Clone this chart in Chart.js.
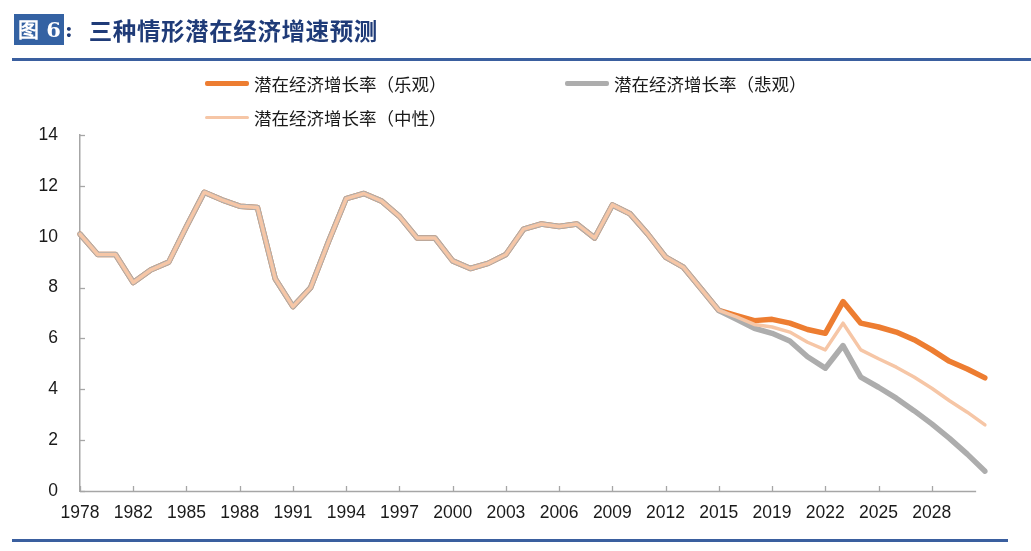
<!DOCTYPE html>
<html lang="zh-CN">
<head>
<meta charset="utf-8">
<script src="https://cdn.jsdelivr.net/npm/chart.js@4.4.1/dist/chart.umd.min.js"></script>
<style>
  html, body { margin: 0; padding: 0; background: #fff; }
  #page { position: relative; width: 1031px; height: 551px; overflow: hidden; font-family: "Noto Sans CJK SC", sans-serif; }
  #chart { position: absolute; left: 0; top: 0; }
  #title { position: absolute; left: 14px; top: 14px; height: 31px; display: flex; align-items: center; color: #1f3b78; }
  #title .fig { background: #3462a3; color: #fff; font-family: "DejaVu Serif", serif; font-weight: bold; font-size: 21px; height: 31px; line-height: 31px; padding: 0 3px 0 4px; white-space: nowrap; }
  #title .colon { font-family: "DejaVu Serif", serif; font-weight: bold; font-size: 21px; margin-left: 1px; margin-right: 16px; }
  #title .txt { font-size: 23.5px; font-weight: bold; letter-spacing: 0.6px; }
  .rule { position: absolute; left: 12px; height: 3px; background: #3a5f9f; }
  .leg { position: absolute; display: flex; align-items: center; font-size: 17.5px; color: #1a1a1a; height: 24px; }
  .leg i { display: inline-block; width: 44px; margin-right: 5px; border-radius: 2px; }
</style>
</head>
<body>
<div id="page">
  <canvas id="chart" width="1031" height="551"></canvas>
  <div id="title"><span class="fig">图 6</span><span class="colon">:</span><span class="txt">三种情形潜在经济增速预测</span></div>
  <div class="rule" style="top:58px; right:0;"></div>
  <div class="rule" style="top:539px; width:996px;"></div>
  <div id="legend"></div>
</div>
<script>
// categories (years); 1979 and 2016 are not in the source series
const years = [
  "1978", "1980", "1981", "1982", "1983", "1984", "1985", "1986", "1987", "1988",
  "1989", "1990", "1991", "1992", "1993", "1994", "1995", "1996", "1997", "1998",
  "1999", "2000", "2001", "2002", "2003", "2004", "2005", "2006", "2007", "2008",
  "2009", "2010", "2011", "2012", "2013", "2014", "2015", "2017", "2018", "2019",
  "2020", "2021", "2022", "2023", "2024", "2025", "2026", "2027", "2028", "2029",
  "2030", "2031"
];

// years that get a label and a tick mark
const tickYears = [
  "1978", "1982", "1985", "1988", "1991", "1994", "1997", "2000", "2003",
  "2006", "2009", "2012", "2015", "2019", "2022", "2025", "2028"
];

// shared history 1978-2015 (%)
const history = [
  10.1, 9.3, 9.3, 8.2, 8.7, 9.0, 10.4, 11.75, 11.45, 11.2,
  11.15, 8.35, 7.25, 8.0, 9.8, 11.5, 11.7, 11.4, 10.8, 9.95,
  9.95, 9.05, 8.75, 8.95, 9.3, 10.3, 10.5, 10.4, 10.5, 9.95,
  11.25, 10.9, 10.1, 9.2, 8.8, 7.95, 7.1
];

// projections 2017-2031 (%)
const optimistic = [6.9, 6.7, 6.75, 6.6, 6.35, 6.2, 7.45, 6.6, 6.45, 6.25, 5.95, 5.55, 5.1, 4.8, 4.45];
const pessimistic = [6.75, 6.4, 6.2, 5.9, 5.28, 4.83, 5.72, 4.48, 4.08, 3.65, 3.16, 2.64, 2.07, 1.45, 0.78];
const neutral = [6.85, 6.55, 6.45, 6.25, 5.85, 5.55, 6.6, 5.55, 5.2, 4.87, 4.48, 4.04, 3.55, 3.1, 2.6];

const yTicks = [0, 2, 4, 6, 8, 10, 12, 14];

const series = [
  { label: "潜在经济增长率（乐观）", values: optimistic, color: "#ed7d31", width: 5.5, order: 2, pos: [205, 71] },
  { label: "潜在经济增长率（悲观）", values: pessimistic, color: "#adadad", width: 5.5, order: 1, pos: [565, 71] },
  { label: "潜在经济增长率（中性）", values: neutral, color: "#f6c6a6", width: 3.5, order: 0, pos: [205, 105] }
];

document.addEventListener("DOMContentLoaded", () => {
  buildLegend();
  initChart();
});

function buildLegend() {
  const box = document.getElementById("legend");
  series.forEach((s) => {
    const el = document.createElement("div");
    el.className = "leg";
    el.style.left = s.pos[0] + "px";
    el.style.top = s.pos[1] + "px";
    el.innerHTML = '<i style="height:' + (s.width - 0.5) + 'px;background:' + s.color + '"></i>' + s.label;
    box.appendChild(el);
  });
}

// axis line + inward tick marks, as in the source
const innerTicks = {
  id: "innerTicks",
  beforeDatasetsDraw(chart) {
    const { ctx, scales } = chart;
    const x = scales.x, y = scales.y;
    ctx.save();
    ctx.strokeStyle = "#a6a6a6";
    ctx.lineWidth = 1.5;
    // x axis stops half a category before the last point
    const yb = Math.round(y.bottom) + 0.5;
    ctx.beginPath();
    ctx.moveTo(x.left, yb);
    ctx.lineTo(x.getPixelForValue(years.length - 1.5), yb);
    ctx.stroke();
    ctx.lineWidth = 1.3;
    yTicks.forEach((v) => {
      const py = Math.round(y.getPixelForValue(v)) + 0.5;
      ctx.beginPath();
      ctx.moveTo(x.left, py);
      ctx.lineTo(x.left + 5, py);
      ctx.stroke();
    });
    years.forEach((yr, i) => {
      if (!tickYears.includes(yr)) return;
      const px = Math.round(x.getPixelForValue(i)) + 0.5;
      ctx.beginPath();
      ctx.moveTo(px, y.bottom);
      ctx.lineTo(px, y.bottom - 5);
      ctx.stroke();
    });
    ctx.restore();
  }
};

function initChart() {
  const ctx = document.getElementById("chart").getContext("2d");
  new Chart(ctx, {
    type: "line",
    data: {
      labels: years,
      datasets: series.map((s) => ({
        label: s.label,
        data: history.concat(s.values),
        borderColor: s.color,
        borderWidth: s.width,
        order: s.order,
        pointRadius: 0,
        tension: 0,
        borderCapStyle: "round",
        borderJoinStyle: "round",
        fill: false
      }))
    },
    options: {
      responsive: false,
      animation: false,
      layout: { padding: { left: 0, right: 46, top: 135, bottom: 0 } },
      plugins: { legend: { display: false }, tooltip: { enabled: false } },
      scales: {
        x: {
          offset: false,
          grid: { display: false, drawTicks: false },
          border: { display: false },
          ticks: {
            autoSkip: false,
            maxRotation: 0,
            padding: 12,
            color: "#1a1a1a",
            font: { size: 17.5, family: "Liberation Sans, Arial, sans-serif" },
            callback: (v, i) => (tickYears.includes(years[i]) ? years[i] : "")
          },
          afterFit: (s) => { s.height = 60; }
        },
        y: {
          min: 0,
          max: 14,
          grid: { display: false, drawTicks: false },
          border: { color: "#a6a6a6", width: 1.5 },
          afterBuildTicks: (s) => { s.ticks = yTicks.map((v) => ({ value: v })); },
          ticks: {
            padding: 22,
            color: "#1a1a1a",
            font: { size: 17.5, family: "Liberation Sans, Arial, sans-serif" }
          },
          afterFit: (s) => { s.width = 80; }
        }
      }
    },
    plugins: [innerTicks]
  });
}
</script>
</body>
</html>
